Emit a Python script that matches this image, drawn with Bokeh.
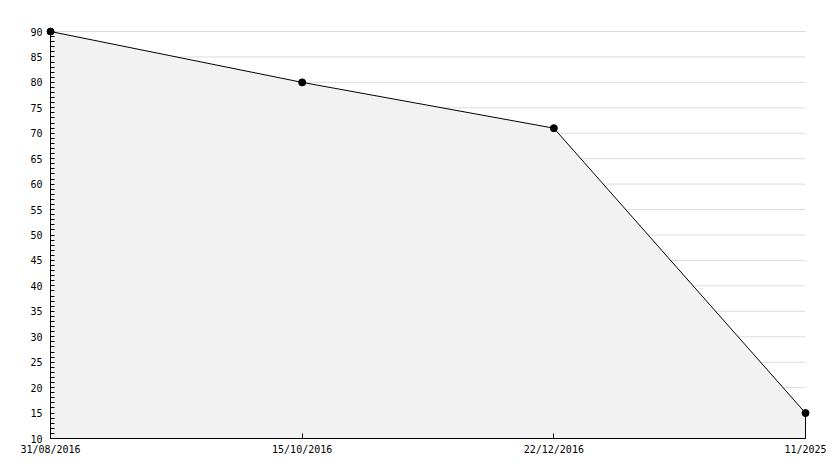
from bokeh.plotting import figure
from bokeh.models import Range1d, FixedTicker, LinearAxis
from bokeh.embed import file_html
from bokeh.resources import INLINE

# ---- data ----
date_labels = ["31/08/2016", "15/10/2016", "22/12/2016", "11/2025"]
values = [90, 80, 71, 15]
y_ticks = [10, 15, 20, 25, 30, 35, 40, 45, 50, 55, 60, 65, 70, 75, 80, 85, 90]
y_min, y_max = 10, 90

xs = list(range(len(date_labels)))
x_last = xs[-1]

# small padding so the corner markers are not clipped
px_per_x = 755 / x_last
px_per_y = 407 / (y_max - y_min)
pad = 5

p = figure(width=834, height=468, output_backend="svg", toolbar_location=None,
           x_range=Range1d(xs[0] - pad / px_per_x, x_last + pad / px_per_x),
           y_range=Range1d(y_min, y_max + pad / px_per_y),
           min_border_left=45, min_border_right=24, min_border_top=26,
           min_border_bottom=30)
p.outline_line_color = None
p.grid.visible = False
p.background_fill_color = "white"

# grid lines (from tick values), under the fill
grid_y = [t for t in y_ticks if t > y_min]
p.segment(x0=[xs[0]] * len(grid_y), x1=[x_last] * len(grid_y), y0=grid_y, y1=grid_y,
          line_color="#dcdcdc", line_width=1)

# filled area with outline
px = [xs[0]] + xs + [x_last]
py = [y_min] + values + [y_min]
p.patch(px, py, fill_color="#f2f2f2", line_color="black", line_width=1)

p.scatter(xs, values, marker="circle", size=7, fill_color="black", line_color="black")

font = "DejaVu Sans Mono"

xa = p.xaxis[0]
xa.ticker = FixedTicker(ticks=xs)
xa.major_label_overrides = {i: lab for i, lab in zip(xs, date_labels)}
xa.bounds = (xs[0], x_last)
xa.major_tick_in = 5
xa.major_tick_out = 0
xa.minor_tick_in = 0
xa.minor_tick_out = 0
xa.axis_line_color = "black"
xa.major_label_text_font = font
xa.major_label_text_font_size = "10px"
xa.major_label_text_color = "black"
xa.major_label_standoff = 5

# y axis line and ticks, fixed at the first category (ticks only, no labels)
ya = p.yaxis[0]
ya.ticker = FixedTicker(ticks=[], minor_ticks=list(range(y_min, y_max + 1)))
ya.fixed_location = xs[0]
ya.bounds = (y_min, y_max)
ya.major_tick_in = 0
ya.major_tick_out = 0
ya.minor_tick_in = 4
ya.minor_tick_out = 0
ya.axis_line_color = "black"
ya.minor_tick_line_color = "black"
ya.major_label_standoff = 0

# y axis labels
yl = LinearAxis(ticker=FixedTicker(ticks=y_ticks, minor_ticks=[]))
yl.axis_line_color = None
yl.major_tick_line_color = None
yl.minor_tick_line_color = None
yl.major_tick_in = 0
yl.major_tick_out = 0
yl.minor_tick_in = 0
yl.minor_tick_out = 0
yl.major_label_text_font = font
yl.major_label_text_font_size = "10px"
yl.major_label_text_color = "black"
yl.major_label_standoff = 3
p.add_layout(yl, "left")

open("out.html", "w").write(file_html(p, INLINE))
